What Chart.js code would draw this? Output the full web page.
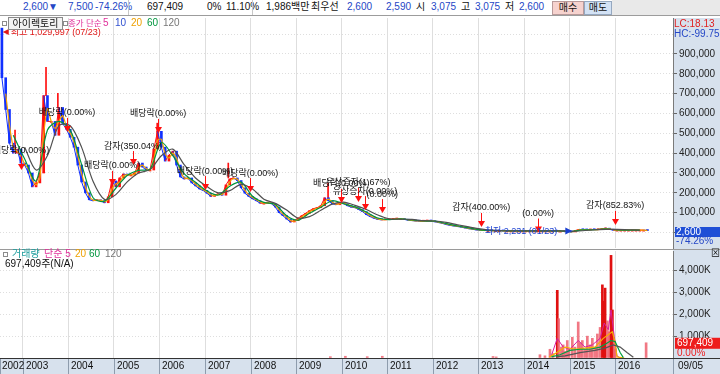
<!DOCTYPE html>
<html lang="ko">
<head>
<meta charset="utf-8">
<title>아이렉토리 주가 차트</title>
<script src="https://cdn.jsdelivr.net/npm/chart.js@4.4.1/dist/chart.umd.min.js"></script>
<style>
  body { margin: 0; background: #fff; }
  #wrap { position: relative; width: 720px; height: 374px; overflow: hidden;
          font-family: "Liberation Sans", "Noto Sans CJK KR", sans-serif; font-size: 10px; color: #111; }
  #wrap canvas { position: absolute; left: 0; }
  .t { position: absolute; white-space: nowrap; line-height: 12px; }
  .blue { color: #2446c6; }
  .ico { position: absolute; width: 3px; height: 3px; border: 1px solid #8c8c8c; background: #fff; }
  .sep { position: absolute; top: 0; width: 1px; height: 15px; background: #c8c8c8; }
</style>
</head>
<body>
<div id="wrap">
  <!-- 상단 시세 바 -->
  <div style="position:absolute;left:0;top:0;width:720px;height:15px;background:#fff;border-bottom:1px solid #9c9c9c;"></div>
  <div style="position:absolute;left:612px;top:0;width:108px;height:15px;background:#e9e9e9;"></div>
  <span class="t blue" style="left:23px;top:1px">2,600▼</span>
  <span class="t blue" style="left:68px;top:1px">7,500</span>
  <span class="t blue" style="left:95px;top:1px">-74.26%</span>
  <div class="sep" style="left:128px"></div>
  <span class="t" style="left:147px;top:1px">697,409</span>
  <span class="t" style="left:207px;top:1px">0%</span>
  <span class="t" style="left:226px;top:1px">11.10%</span>
  <div class="sep" style="left:252px"></div>
  <span class="t" style="left:266px;top:1px">1,986백만</span>
  <span class="t" style="left:311px;top:1px">최우선</span>
  <span class="t blue" style="left:347px;top:1px">2,600</span>
  <span class="t blue" style="left:386px;top:1px">2,590</span>
  <span class="t" style="left:416px;top:1px">시</span>
  <span class="t blue" style="left:431px;top:1px">3,075</span>
  <span class="t" style="left:461px;top:1px">고</span>
  <span class="t blue" style="left:475px;top:1px">3,075</span>
  <span class="t" style="left:505px;top:1px">저</span>
  <span class="t blue" style="left:519px;top:1px">2,600</span>
  <span class="t" style="left:552px;top:1px;width:30px;height:12px;text-align:center;background:#f6d2ce;border:1px solid #b89a9a;">매수</span>
  <span class="t" style="left:584px;top:1px;width:26px;height:12px;text-align:center;background:#d3e2f5;border:1px solid #95a8c0;">매도</span>

  <canvas id="priceChart" width="720" height="231" style="top:18px"></canvas>
  <div style="position:absolute;left:0;top:249px;width:720px;height:1px;background:#9a9a9a;"></div>
  <canvas id="volChart" width="720" height="124" style="top:250px"></canvas>

  <!-- 가격 범례 -->
  <div class="ico" style="left:2px;top:21px"></div>
  <span class="t" style="left:8px;top:17px;width:53px;height:11px;line-height:11px;text-align:center;border:1px solid #8a8a8a;background:#f3f3f3;">아이렉토리</span>
  <div class="ico" style="left:63px;top:21px"></div>
  <span class="t" style="left:68px;top:17px;color:#e0309a;font-size:8.5px">종가 단순</span>
  <span class="t" style="left:103px;top:17px;color:#e0309a">5</span>
  <span class="t" style="left:115px;top:17px;color:#3050d0">10</span>
  <span class="t" style="left:131px;top:17px;color:#eea000">20</span>
  <span class="t" style="left:147px;top:17px;color:#00963e">60</span>
  <span class="t" style="left:163px;top:17px;color:#777">120</span>

  <!-- 우상단 LC/HC -->
  <div style="position:absolute;left:674px;top:18px;width:46px;height:21px;background:#d7e1ed;"></div>
  <span class="t" style="left:674px;top:18px;color:#e02020">LC:18.13</span>
  <span class="t" style="left:674px;top:28px;color:#2446c6">HC:-99.75</span>

  <!-- 거래량 범례 -->
  <div class="ico" style="left:3px;top:252px"></div>
  <span class="t" style="left:12px;top:248px;color:#1a9c9c">거래량</span>
  <span class="t" style="left:44px;top:248px;color:#e0309a">단순 5</span>
  <span class="t" style="left:75px;top:248px;color:#eea000">20</span>
  <span class="t" style="left:89px;top:248px;color:#00963e">60</span>
  <span class="t" style="left:105px;top:248px;color:#777">120</span>
  <span class="t" style="left:5px;top:258px">697,409주(N/A)</span>
  <span class="t" style="left:711px;top:247px;font-size:9px">⊠</span>
</div>

<script>
// ---------- 데이터 ----------
// 월별 종가, 천원 단위 : 2002-07 ~ 2016-09
const closeK = [
  780, 620, 450, 400, 420, 350, 340, 300, 230, 250,
  300, 690, 560, 560, 490, 630, 550, 520, 480, 430,
  340, 255, 200, 165, 160, 165, 160, 150, 180, 260,
  230, 275, 295, 290, 290, 300, 350, 330, 315, 315,
  420, 510, 430, 360, 390, 410, 340, 280, 270, 275,
  250, 235, 220, 212, 198, 182, 190, 195, 188, 240,
  270, 275, 262, 225, 198, 182, 170, 160, 148, 148,
  150, 145, 128, 100, 85, 68, 53, 60, 72, 85,
  97, 110, 120, 125, 135, 175, 160, 145, 140, 150,
  145, 135, 128, 125, 115, 105, 90, 80, 72, 66,
  64, 65, 66, 68, 70, 70, 66, 62, 60, 58,
  57, 58, 60, 58, 54, 50, 46, 40, 36, 33,
  30, 27, 23, 19, 16, 13, 11, 10, 10, 9,
  9, 9, 8, 8, 8, 8, 8, 8, 8, 8,
  8, 8, 8, 8, 8, 8, 7, 7, 6, 5,
  3, 10, 16, 14, 13, 15, 14, 15, 18, 22,
  16, 12, 12, 12, 12, 12, 12, 12, 12, 12,
  10
];
// 20일 이동평균 (월별, 천원)
const ma20K = [
  null, 700, 540, 430, 410, 385, 345, 320, 265, 240,
  275, 495, 625, 560, 525, 560, 590, 535, 500, 455,
  385, 298, 228, 183, 163, 163, 163, 155, 165, 220,
  245, 253, 285, 292, 290, 295, 325, 340, 322, 315,
  368, 465, 470, 395, 375, 400, 375, 310, 275, 272,
  262, 243, 228, 216, 205, 190, 186, 192, 192, 214,
  255, 272, 268, 244, 212, 190, 176, 165, 154, 148,
  149, 148, 137, 114, 93, 77, 61, 57, 66, 78,
  91, 104, 115, 122, 130, 155, 168, 153, 143, 145,
  148, 140, 132, 127, 120, 110, 98, 85, 76, 69,
  65, 65, 66, 67, 69, 70, 68, 64, 61, 59,
  58, 58, 59, 59, 56, 52, 48, 43, 38, 35,
  32, 29, 25, 21, 18, 15, 12, 11, 10, 10,
  9, 9, 9, 8, 8, 8, 8, 8, 8, 8,
  8, 8, 8, 8, 8, 8, 8, 7, 7, 6,
  4, 7, 13, 15, 14, 14, 15, 15, 17, 20,
  19, 14, 12, 12, 12, 12, 12, 12, 12, 12,
  11
];
// 60일 이동평균 (3개월 간격, 2002-10부터, 천원)
const ma60K = [
  490, 370, 260, 517, 560, 517, 342, 175, 158, 223,
  287, 313, 320, 453, 387, 297, 253, 210, 189, 233,
  254, 183, 152, 141, 84, 62, 97, 127, 160, 145,
  129, 103, 73, 65, 69, 63, 58, 57, 45, 33,
  23, 13, 10, 9, 8, 8, 8, 8, 8, 5,
  13, 14, 18, 13, 12, 12
];
// 120일 이동평균 (3개월 간격, 2003-01부터, 천원)
const ma120K = [
  430, 315, 388, 538, 538, 429, 258, 167, 191, 255,
  300, 317, 387, 420, 342, 275, 232, 200, 211, 243,
  219, 168, 147, 113, 73, 80, 112, 143, 153, 137,
  116, 88, 69, 67, 66, 60, 58, 51, 39, 28,
  18, 12, 9, 8, 8, 8, 8, 8, 6, 9,
  14, 16, 16, 14, 12
];
// 눈에 띄는 장중 고가 꼬리 (천원)
const spikeYears = [2002.83, 2003.51, 2003.77, 2005.95, 2007.51, 2009.70];
const spikeBaseK = [420, 690, 630, 510, 275, 175];
const spikeHighK = [516, 833, 702, 551, 350, 249];

const peakPrice = 1029997, peakYear = 2002.56, peakDate = '07/23';
const lowPrice = 2231, lowYear = 2015.06, lowDate = '01/23';
const lastPrice = 2600, lastChange = '-74.26%';
const lastVolume = 697409, lastVolChange = '0.00%', lastDate = '09/05';

// 권리 이벤트
const eventYears  = [2002.96, 2003.97, 2004.96, 2005.42, 2005.97, 2007.00, 2007.99,
                     2009.99, 2010.36, 2010.51, 2010.89, 2013.06, 2014.31, 2016.00];
const eventLabels = ['배당락(0.00%)', '배당락(0.00%)', '배당락(0.00%)', '감자(350.04%)',
                     '배당락(0.00%)', '배당락(0.00%)', '배당락(0.00%)', '배당락(0.00%)',
                     '유상증자(1.67%)', '유상증자(0.00%)', '(0.00%)', '감자(400.00%)',
                     '(0.00%)', '감자(852.83%)'];
const eventPriceK = [315, 507, 240, 340, 502, 214, 204, 149, 154, 113, 98, 28, 0, 38];

// 거래량 (천주)
const volYears = [2009.75, 2010.08, 2010.56, 2010.89, 2013.32, 2013.39,
  2014.35, 2014.46, 2014.57, 2014.64, 2014.73, 2014.76, 2014.82, 2014.86, 2014.90, 2014.95,
  2014.99, 2015.06, 2015.12, 2015.19, 2015.23, 2015.28, 2015.34, 2015.39, 2015.45, 2015.50,
  2015.56, 2015.61, 2015.67, 2015.72, 2015.76, 2015.78, 2015.83, 2015.87, 2015.91, 2015.94,
  2015.98, 2016.00, 2016.68];
const volK = [60, 80, 60, 80, 70, 50,
  150, 100, 400, 200, 3100, 1800, 500, 600, 300, 800,
  400, 950, 500, 1650, 700, 800, 400, 1000, 600, 900,
  500, 1100, 1400, 3350, 2600, 3200, 1700, 1200, 4700, 2200,
  800, 400, 697];
const volMa5Years   = [2014.60, 2014.73, 2014.86, 2015.01, 2015.19, 2015.34, 2015.50, 2015.67, 2015.76, 2015.85, 2015.91, 2015.98, 2016.04, 2016.11];
const volMa5K       = [100, 900, 500, 400, 800, 500, 600, 900, 1600, 1300, 2200, 1000, 100, 0];
const volMa20Years  = [2014.55, 2014.68, 2014.90, 2015.12, 2015.34, 2015.56, 2015.74, 2015.87, 2015.94, 2016.00, 2016.04, 2016.20];
const volMa20K      = [50, 200, 500, 400, 450, 500, 900, 1100, 1200, 700, 50, 0];
const volMa60Years  = [2014.60, 2014.79, 2015.01, 2015.23, 2015.45, 2015.67, 2015.80, 2015.91, 2016.00, 2016.11, 2016.18];
const volMa60K      = [50, 150, 350, 400, 400, 500, 650, 800, 750, 250, 20];
const volMa120Years = [2014.70, 2014.90, 2015.23, 2015.56, 2015.78, 2015.96, 2016.11, 2016.26, 2016.40];
const volMa120K     = [50, 100, 250, 350, 450, 600, 500, 250, 30];

// 축 눈금
const yearTicks = [2003, 2004, 2005, 2006, 2007, 2008, 2009, 2010, 2011, 2012, 2013, 2014, 2015, 2016];
const priceTicks = [0, 100000, 200000, 300000, 400000, 500000, 600000, 700000, 800000, 900000, 1000000];
const volTicks = [0, 1000000, 2000000, 3000000, 4000000];

// ---------- 스타일 ----------
const PANEL = '#d7e1ed';
const GRID = '#dedede';
const UP = '#ff1010', DOWN = '#1030ff';
const NUM_FONT = { family: 'Liberation Sans', size: 10 };
const KO_FONT = '9px "Liberation Sans", "Noto Sans CJK KR"';

const monthX = i => 2002 + (6 + i + 0.5) / 12;
const toPts = (years, vals, mul) => years.map((yr, i) => ({ x: yr, y: vals[i] * mul }));

const candles = closeK.map((c, i) => ({
  x: monthX(i),
  y: [i ? closeK[i - 1] * 1000 : peakPrice, c * 1000]
}));
const spikes = spikeYears.map((yr, i) => ({ x: yr, y: [spikeBaseK[i] * 1000, spikeHighK[i] * 1000] }));
const closePts = closeK.map((c, i) => ({ x: monthX(i), y: c * 1000 }));
const ma20Pts = ma20K.map((v, i) => ({ x: monthX(i), y: v === null ? null : v * 1000 }));
const ma60Pts = ma60K.map((v, k) => ({ x: monthX(3 + 3 * k), y: v * 1000 }));
const ma120Pts = ma120K.map((v, k) => ({ x: monthX(6 + 3 * k), y: v * 1000 }));

// 공통 x축
function xAxis() {
  return {
    type: 'linear', min: 2002.5, max: 2017.27, offset: false,
    afterBuildTicks: s => { s.ticks = yearTicks.map(v => ({ value: v })); },
    afterFit: s => { s.height = 0; s.paddingLeft = 0; s.paddingRight = 0; },
    ticks: { display: false },
    grid: { color: GRID, drawTicks: false, offset: false },
    border: { display: false }
  };
}

const panelBg = {
  id: 'panelBg',
  beforeDraw(chart) {
    const { ctx, chartArea: a, width, height } = chart;
    ctx.save();
    ctx.fillStyle = '#fff';
    ctx.fillRect(0, 0, width, height);
    ctx.fillStyle = PANEL;
    ctx.fillRect(a.right, 0, width - a.right, height);
    ctx.restore();
  }
};

function triDown(ctx, x, y) {
  ctx.beginPath();
  ctx.moveTo(x - 3.5, y - 6);
  ctx.lineTo(x + 3.5, y - 6);
  ctx.lineTo(x, y);
  ctx.closePath();
  ctx.fill();
}

// 이벤트 화살표, 최고/최저, 현재가 표시
const priceMarks = {
  id: 'priceMarks',
  afterDraw(chart) {
    const { ctx, chartArea: a, scales: { x, y } } = chart;
    ctx.save();
    ctx.font = KO_FONT;
    ctx.textBaseline = 'middle';

    eventYears.forEach((yr, i) => {
      const px = Math.round(x.getPixelForValue(yr)) + 0.5;
      const tip = y.getPixelForValue(eventPriceK[i] * 1000);
      ctx.strokeStyle = UP;
      ctx.fillStyle = UP;
      ctx.lineWidth = 1;
      ctx.beginPath();
      ctx.moveTo(px, tip - 14);
      ctx.lineTo(px, tip - 5);
      ctx.stroke();
      triDown(ctx, px, tip);
    });
    ctx.fillStyle = '#111';
    ctx.textAlign = 'center';
    eventYears.forEach((yr, i) => {
      const px = x.getPixelForValue(yr);
      const tip = y.getPixelForValue(eventPriceK[i] * 1000);
      ctx.fillText(eventLabels[i], px, tip - 19);
    });

    // 최고가
    const hx = x.getPixelForValue(peakYear), hy = y.getPixelForValue(peakPrice) + 4;
    ctx.fillStyle = '#e01818';
    ctx.beginPath();
    ctx.moveTo(hx, hy); ctx.lineTo(hx + 6, hy - 3); ctx.lineTo(hx + 6, hy + 3); ctx.closePath(); ctx.fill();
    ctx.textAlign = 'left';
    ctx.fillText('최고 ' + peakPrice.toLocaleString('en-US') + ' (' + peakDate + ')', hx + 8, hy);

    // 최저가
    const lx = x.getPixelForValue(lowYear), ly = y.getPixelForValue(lowPrice) - 1;
    ctx.fillStyle = '#1a3fd0';
    ctx.beginPath();
    ctx.moveTo(lx, ly); ctx.lineTo(lx - 7, ly - 3.5); ctx.lineTo(lx - 7, ly + 3.5); ctx.closePath(); ctx.fill();
    ctx.textAlign = 'right';
    ctx.fillText('최저 ' + lowPrice.toLocaleString('en-US') + ' (' + lowDate + ')', lx - 15, ly);

    // 현재가 박스
    const cy = y.getPixelForValue(lastPrice);
    ctx.fillStyle = '#1f4fd6';
    ctx.fillRect(a.right + 2, cy - 5, 46, 10);
    ctx.fillStyle = '#fff';
    ctx.textAlign = 'left';
    ctx.font = '10px "Liberation Sans"';
    ctx.fillText(lastPrice.toLocaleString('en-US'), a.right + 3, cy);
    ctx.fillStyle = '#2446c6';
    ctx.fillText(lastChange, a.right + 3, cy + 9);
    ctx.restore();
  }
};

// 하단 날짜 띠와 거래량 현재값
const dateBand = {
  id: 'dateBand',
  afterDraw(chart) {
    const { ctx, chartArea: a, scales: { x, y }, width, height } = chart;
    ctx.save();
    ctx.fillStyle = PANEL;
    ctx.fillRect(0, a.bottom, width, height - a.bottom);
    ctx.strokeStyle = '#333';
    ctx.lineWidth = 1;
    ctx.beginPath();
    ctx.moveTo(0, a.bottom + 0.5);
    ctx.lineTo(width, a.bottom + 0.5);
    ctx.stroke();

    ctx.strokeStyle = '#8e9cad';
    ctx.fillStyle = '#111';
    ctx.font = '10px "Liberation Sans"';
    ctx.textBaseline = 'middle';
    ctx.textAlign = 'left';
    const mid = (a.bottom + height) / 2 + 0.5;
    [a.left, ...yearTicks.map(v => x.getPixelForValue(v)), a.right].forEach(px => {
      const p = Math.round(px) + 0.5;
      ctx.beginPath();
      ctx.moveTo(p, a.bottom + 1);
      ctx.lineTo(p, height);
      ctx.stroke();
    });
    ctx.fillText('2002', a.left + 2, mid);
    yearTicks.forEach(v => ctx.fillText(String(v), Math.round(x.getPixelForValue(v)) + 3, mid));
    ctx.fillText(lastDate, a.right + 5, mid);

    // 현재 거래량
    const vy = y.getPixelForValue(lastVolume);
    ctx.fillStyle = '#ee1c1c';
    ctx.fillRect(a.right + 2, vy - 5, 46, 11);
    ctx.fillStyle = '#fff';
    ctx.fillText(lastVolume.toLocaleString('en-US'), a.right + 4, vy + 0.5);
    ctx.fillStyle = '#ee1c1c';
    ctx.fillText(lastVolChange, a.right + 4, vy + 10);
    ctx.restore();
  }
};

const common = {
  responsive: false,
  animation: false,
  devicePixelRatio: 1,
  plugins: { legend: { display: false }, tooltip: { enabled: false } }
};

// ---------- 가격 차트 ----------
new Chart(document.getElementById('priceChart'), {
  type: 'bar',
  data: {
    datasets: [
      {
        type: 'bar', data: candles, barThickness: 2, minBarLength: 1, order: 5, grouped: false,
        backgroundColor: c => (c.raw && c.raw.y[1] >= c.raw.y[0] ? UP : DOWN)
      },
      { type: 'bar', data: spikes, barThickness: 1, order: 6, grouped: false, backgroundColor: UP },
      {
        type: 'line', data: closePts, borderWidth: 1, pointRadius: 0, order: 4,
        segment: { borderColor: s => (s.p1.parsed.y >= s.p0.parsed.y ? UP : DOWN) }
      },
      { type: 'line', data: ma20Pts, borderColor: '#f5a200', borderWidth: 1.2, pointRadius: 0, tension: 0.2, order: 3 },
      { type: 'line', data: ma60Pts, borderColor: '#00953c', borderWidth: 1.2, pointRadius: 0, tension: 0.3, order: 2 },
      { type: 'line', data: ma120Pts, borderColor: '#505050', borderWidth: 1.2, pointRadius: 0, tension: 0.3, order: 1 }
    ]
  },
  options: {
    ...common,
    layout: { padding: { top: 0, bottom: 1, left: 0, right: 0 } },
    scales: {
      x: xAxis(),
      y: {
        position: 'right', min: -78000, max: 1081000,
        afterBuildTicks: s => { s.ticks = priceTicks.map(v => ({ value: v })); },
        afterFit: s => { s.width = 47; s.paddingTop = 0; s.paddingBottom = 0; },
        grid: { color: GRID, tickLength: 4, tickColor: '#666' },
        border: { display: true, color: '#7a7a7a', dash: [1, 2] },
        ticks: { color: '#222', font: NUM_FONT, padding: 2,
                 callback: v => (v === 0 ? '' : v.toLocaleString('en-US')) }
      }
    }
  },
  plugins: [panelBg, priceMarks]
});

// ---------- 거래량 차트 ----------
new Chart(document.getElementById('volChart'), {
  type: 'bar',
  data: {
    datasets: [
      {
        type: 'bar', data: toPts(volYears, volK, 1000), barThickness: 2, order: 5,
        backgroundColor: c => (c.raw && c.raw.y > 2000000 ? '#e01010' : 'rgba(238,96,110,0.85)')
      },
      { type: 'line', data: toPts(volMa5Years, volMa5K, 1000), borderColor: '#d81ea0', borderWidth: 1, pointRadius: 0, order: 4 },
      { type: 'line', data: toPts(volMa20Years, volMa20K, 1000), borderColor: '#f5b000', borderWidth: 1.2, pointRadius: 0, order: 3 },
      { type: 'line', data: toPts(volMa60Years, volMa60K, 1000), borderColor: '#00a040', borderWidth: 1.2, pointRadius: 0, order: 2 },
      { type: 'line', data: toPts(volMa120Years, volMa120K, 1000), borderColor: '#555', borderWidth: 1.2, pointRadius: 0, order: 1 }
    ]
  },
  options: {
    ...common,
    layout: { padding: { top: 1, bottom: 16, left: 0, right: 0 } },
    scales: {
      x: xAxis(),
      y: {
        position: 'right', min: 0, max: 4900000,
        afterBuildTicks: s => { s.ticks = volTicks.map(v => ({ value: v })); },
        afterFit: s => { s.width = 47; s.paddingTop = 0; s.paddingBottom = 0; },
        grid: { color: GRID, tickLength: 4, tickColor: '#666' },
        border: { display: true, color: '#7a7a7a', dash: [1, 2] },
        ticks: { color: '#222', font: NUM_FONT, padding: 2,
                 callback: v => (v === 0 ? '' : (v / 1000).toLocaleString('en-US') + 'K') }
      }
    }
  },
  plugins: [panelBg, dateBand]
});
</script>
</body>
</html>
